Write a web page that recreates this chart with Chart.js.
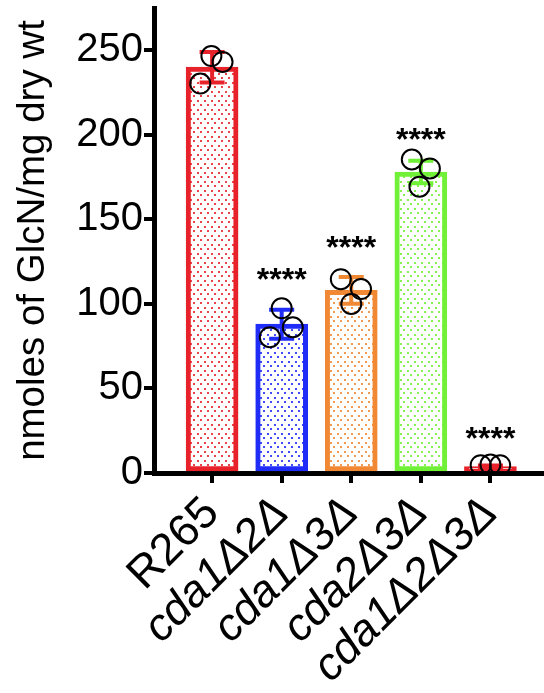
<!DOCTYPE html>
<html>
<head>
<meta charset="utf-8">
<script src="https://cdn.jsdelivr.net/npm/chart.js@4.4.1/dist/chart.umd.min.js"></script>
<style>
  html, body { margin: 0; padding: 0; background: #ffffff; }
  canvas { display: block; }
</style>
</head>
<body>
<canvas id="c" width="544" height="693"></canvas>
<script>
// ---- data ----
const categories = ["R265", "cda1\u03942\u0394", "cda1\u03943\u0394", "cda2\u03943\u0394", "cda1\u03942\u03943\u0394"];
const means = [240, 88, 108, 178, 3.8];
const sds = [9, 8.6, 7.9, 6.6, 0.6];
const replicates = [
  [246.6, 243.1, 230.3],
  [97.4, 86.2, 80.3],
  [114.6, 108.8, 100.0],
  [185.4, 180.1, 169.3],
  [4.6, 5.0, 4.6]
];
const jitter = [
  [-0.01, 0.15, -0.17],
  [0.00, 0.16, -0.17],
  [-0.15, 0.14, 0.00],
  [-0.13, 0.13, -0.02],
  [-0.14, 0.00, 0.14]
];
const significance = ["", "****", "****", "****", "****"];
const significanceY = [0, 117.3, 136.2, 199.9, 23];
const yTicks = [0, 50, 100, 150, 200, 250];
const colors = ["rgb(232,34,42)", "rgb(32,44,248)", "rgb(240,136,52)", "rgb(112,240,54)", "rgb(232,34,42)"];

// ---- patterns ----
function dotPattern(color) {
  const t = document.createElement('canvas');
  t.width = 7; t.height = 9;
  const g = t.getContext('2d');
  g.fillStyle = '#ffffff';
  g.fillRect(0, 0, 7, 9);
  g.fillStyle = color;
  g.globalAlpha = 0.85;
  g.fillRect(1, 1, 2, 2);
  g.fillRect(4, 5, 2, 2);
  return document.getElementById('c').getContext('2d').createPattern(t, 'repeat');
}
const patterns = colors.map(dotPattern);

const barData = means.map((v, i) => ({x: i, y: v}));
const pointData = [];
replicates.forEach((arr, i) => arr.forEach((v, j) => pointData.push({x: i + jitter[i][j], y: v})));

const FONT = "'Liberation Sans', Arial, Helvetica, sans-serif";

const errorBars = {
  id: 'errorBars',
  afterDatasetDraw(chart, args) {
    if (args.meta.type !== 'bar') return;
    const ctx = chart.ctx, xs = chart.scales.x, ys = chart.scales.y;
    ctx.save();
    ctx.lineWidth = 4;
    ctx.lineCap = 'butt';
    means.forEach((m, i) => {
      const x = xs.getPixelForValue(i);
      const yt = ys.getPixelForValue(m + sds[i]);
      const yb = ys.getPixelForValue(m - sds[i]);
      ctx.strokeStyle = colors[i];
      ctx.beginPath();
      ctx.moveTo(x, yt); ctx.lineTo(x, yb);
      ctx.moveTo(x - 12.5, yt); ctx.lineTo(x + 12.5, yt);
      ctx.moveTo(x - 12.5, yb); ctx.lineTo(x + 12.5, yb);
      ctx.stroke();
    });
    ctx.restore();
  },
  afterDatasetsDraw(chart) {
    const ctx = chart.ctx, xs = chart.scales.x, ys = chart.scales.y;
    ctx.save();
    ctx.fillStyle = '#000';
    ctx.font = "bold 32px " + FONT;
    ctx.textAlign = 'center';
    ctx.textBaseline = 'alphabetic';
    significance.forEach((s, i) => {
      if (!s) return;
      ctx.fillText(s, xs.getPixelForValue(i), ys.getPixelForValue(significanceY[i]) + 15);
    });
    ctx.restore();
  }
};

new Chart(document.getElementById('c'), {
  type: 'bar',
  data: {
    datasets: [
      {
        type: 'scatter',
        data: pointData,
        pointRadius: 10,
        pointHoverRadius: 10,
        borderColor: '#000',
        borderWidth: 2,
        backgroundColor: 'rgba(0,0,0,0)'
      },
      {
        type: 'bar',
        data: barData,
        backgroundColor: patterns,
        borderColor: colors,
        borderWidth: 5,
        borderSkipped: false,
        barThickness: 52
      }
    ]
  },
  options: {
    responsive: false,
    animation: false,
    events: [],
    layout: { autoPadding: false, padding: { top: 8, right: 0, left: 0, bottom: 0 } },
    plugins: { legend: { display: false }, tooltip: { enabled: false } },
    scales: {
      x: {
        type: 'linear',
        offset: false,
        min: -0.835,
        max: 4.77,
        afterBuildTicks(scale) { scale.ticks = categories.map((_, i) => ({value: i})); },
        afterFit(scale) { scale.height = 220; scale.paddingLeft = 0; scale.paddingRight = 0; },
        ticks: {
          autoSkip: false,
          maxRotation: 45,
          minRotation: 45,
          padding: 4,
          color: '#000',
          font: (c) => ({family: FONT, size: 45, style: c.index === 0 ? 'normal' : 'italic'}),
          callback: (v) => categories[v] !== undefined ? categories[v] : ''
        },
        grid: { display: true, offset: false, drawOnChartArea: false, drawTicks: true, tickLength: 10, lineWidth: 4, tickWidth: 4, tickColor: '#000', color: '#000' },
        border: { display: true, width: 5, color: '#000' }
      },
      y: {
        min: 0,
        max: 275,
        afterBuildTicks(scale) { scale.ticks = yTicks.map(v => ({value: v})); },
        afterFit(scale) { scale.width = 154; scale.paddingTop = 0; scale.paddingBottom = 0; },
        ticks: {
          padding: 1,
          color: '#000',
          font: { family: FONT, size: 40 }
        },
        grid: { display: true, drawOnChartArea: false, drawTicks: true, tickLength: 10, lineWidth: 4, tickWidth: 4, tickColor: '#000', color: '#000' },
        border: { display: true, width: 5, color: '#000' },
        title: {
          display: true,
          text: 'nmoles of GlcN/mg dry wt',
          color: '#000',
          font: { family: FONT, size: 38.5 },
          padding: { top: 10, bottom: 0 }
        }
      }
    }
  },
  plugins: [errorBars]
});
</script>
</body>
</html>
